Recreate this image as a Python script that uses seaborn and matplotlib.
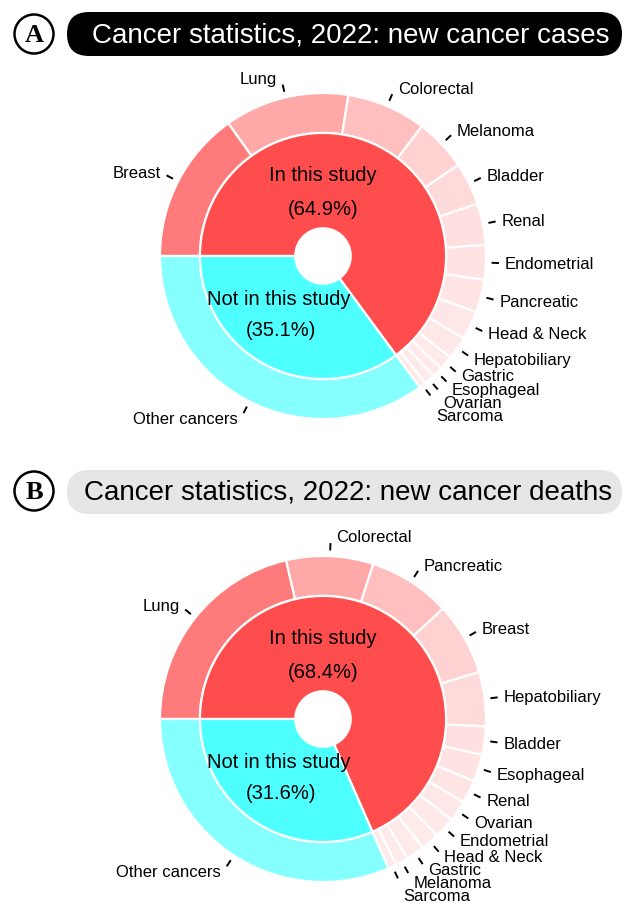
import matplotlib
matplotlib.use('Agg')
import matplotlib.pyplot as plt
from matplotlib.patches import FancyBboxPatch, Circle
import numpy as np
import seaborn as sns

# Cancer statistics 2022 - new cases (in this study) and the rest
case_labels = ['Breast', 'Lung', 'Colorectal', 'Melanoma', 'Bladder', 'Renal',
               'Endometrial', 'Pancreatic', 'Head & Neck', 'Hepatobiliary',
               'Gastric', 'Esophageal', 'Ovarian', 'Sarcoma']
case_values = [290560, 236740, 151030, 99780, 81180, 79000,
               65950, 62210, 54000, 44260,
               26380, 20640, 19880, 13190]
case_other = 673230

# new deaths
death_labels = ['Lung', 'Colorectal', 'Pancreatic', 'Breast', 'Hepatobiliary',
                'Bladder', 'Esophageal', 'Renal', 'Ovarian', 'Endometrial',
                'Head & Neck', 'Gastric', 'Melanoma', 'Sarcoma']
death_values = [130180, 52580, 49830, 43780, 32700,
                17100, 16410, 13920, 12810, 12550,
                11230, 11090, 7650, 5130]
death_other = 192400

sns.set_theme(style='white')
plt.rcParams['font.family'] = ['Liberation Sans', 'DejaVu Sans']
plt.rcParams['text.color'] = 'black'

RED = '#FF4D4D'
CYAN = '#4DFFFF'
CYAN_LIGHT = '#85FFFF'
shade = [0.74, 0.49, 0.36, 0.26, 0.21, 0.18, 0.16, 0.15, 0.14, 0.13,
         0.12, 0.12, 0.12, 0.12]


def red_shades(n):
    pal = sns.blend_palette(['white', RED], 101)
    return [pal[int(round(w * 100))] for w in shade[:n]]


def draw_donut(ax, labels, values, other):
    inside = sum(values)
    total = inside + other
    outer_vals = list(values) + [other]
    cols = red_shades(len(values)) + [CYAN_LIGHT]
    wp = dict(edgecolor='white', linewidth=1.6)
    ax.pie(outer_vals, radius=1.0, startangle=180, counterclock=False,
           colors=cols, wedgeprops=dict(width=0.245, **wp))
    ax.pie([inside, other], radius=0.755, startangle=180, counterclock=False,
           colors=[RED, CYAN], wedgeprops=dict(width=0.585, **wp))

    # label positions
    names = list(labels) + ['Other cancers']
    v = np.array(outer_vals, dtype=float)
    cum = np.concatenate([[0], np.cumsum(v)])
    mids = np.deg2rad(180 - 360 * (cum[:-1] + v / 2) / total)
    items = []
    for name, a in zip(names, mids):
        c, s = np.cos(a), np.sin(a)
        ax.plot([1.035 * c, 1.08 * c], [1.035 * s, 1.08 * s],
                color='black', lw=1.4, solid_capstyle='butt')
        side = 1 if c > 0 else -1
        items.append([name, 1.08 * c + side * 0.035, 1.12 * s, side])
    gap = 0.08
    for side in (1, -1):
        grp = sorted([it for it in items if it[3] == side], key=lambda t: -t[2])
        for i in range(1, len(grp)):
            if grp[i][2] > grp[i - 1][2] - gap:
                grp[i][2] = grp[i - 1][2] - gap
    for name, x, y, side in items:
        ax.text(x, y, name, ha='left' if side > 0 else 'right', va='center',
                fontsize=12, color='black')

    pct_in = 100 * inside / total
    pct_out = 100 - pct_in
    ax.text(0.0, 0.50, 'In this study', ha='center', va='center', fontsize=14.5)
    ax.text(0.0, 0.29, f'({pct_in:.1f}%)', ha='center', va='center', fontsize=14.5)
    ax.text(-0.27, -0.26, 'Not in this study', ha='center', va='center', fontsize=14.5)
    ax.text(-0.26, -0.45, f'({pct_out:.1f}%)', ha='center', va='center', fontsize=14.5)
    L = 1.7
    ax.set_xlim(-L, L)
    ax.set_ylim(-L, L)
    ax.set_aspect('equal')
    ax.axis('off')


W, H = 624, 904
fig = plt.figure(figsize=(W / 100, H / 100), dpi=100)
fig.patch.set_facecolor('white')

bg = fig.add_axes([0, 0, 1, 1])
bg.set_xlim(0, W)
bg.set_ylim(H, 0)
bg.axis('off')

# title badges
bg.add_patch(FancyBboxPatch((67, 13), 555, 44, boxstyle='round,pad=0,rounding_size=22',
                            fc='black', ec='none'))
bg.text(92, 36, 'Cancer statistics, 2022: new cancer cases', color='white',
        fontsize=20, ha='left', va='center')
bg.add_patch(Circle((34, 35), 19.5, fill=False, ec='black', lw=1.8))
bg.text(34, 36, 'A', family='Liberation Serif', fontweight='bold', fontsize=19,
        ha='center', va='center')

bg.add_patch(FancyBboxPatch((67, 471), 555, 44, boxstyle='round,pad=0,rounding_size=22',
                            fc='#E6E6E6', ec='none'))
bg.text(84, 493, 'Cancer statistics, 2022: new cancer deaths', color='black',
        fontsize=20, ha='left', va='center')
bg.add_patch(Circle((34, 492), 19.5, fill=False, ec='black', lw=1.8))
bg.text(34, 493, 'B', family='Liberation Serif', fontweight='bold', fontsize=19,
        ha='center', va='center')

R = 163
half = 1.7 * R
ax1 = fig.add_axes([(323 - half) / W, (H - 257 - half) / H, 2 * half / W, 2 * half / H])
ax1.patch.set_alpha(0)
draw_donut(ax1, case_labels, case_values, case_other)

ax2 = fig.add_axes([(323 - half) / W, (H - 720 - half) / H, 2 * half / W, 2 * half / H])
ax2.patch.set_alpha(0)
draw_donut(ax2, death_labels, death_values, death_other)

fig.savefig('out.png', dpi=100)
